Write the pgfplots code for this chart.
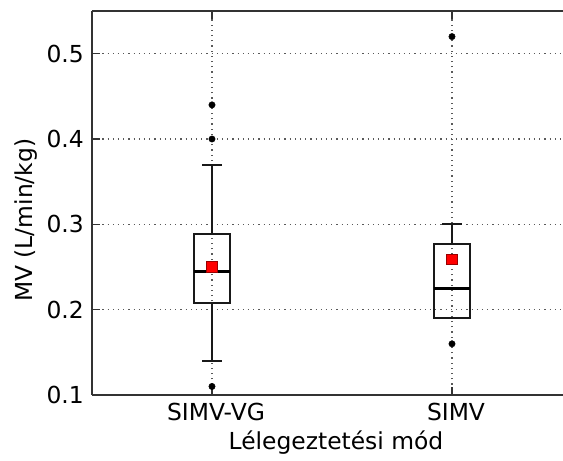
\documentclass[border=0pt]{standalone}
\usepackage{fontspec}
\setmainfont{DejaVu Sans}
\usepackage{pgfplots}
\usepgfplotslibrary{statistics}
\pgfplotsset{compat=1.18}

\begin{document}
\fontsize{11.7}{14}\selectfont
\begin{tikzpicture}
\begin{axis}[
  scale only axis,
  width=235.5pt, height=192pt,
  xmin=0.5, xmax=2.4625,
  ymin=0.1, ymax=0.55,
  axis y line*=left,
  axis line style={black!80, line width=0.9pt},
  xtick={1,2},
  xticklabels={SIMV-VG,SIMV},
  xticklabel style={xshift=2pt},
  ytick={0.1,0.2,0.3,0.4,0.5},
  yticklabel style={/pgf/number format/.cd, fixed, fixed zerofill, precision=1},
  /pgf/number format/assume math mode=true,
  tick align=inside,
  major tick length=4pt,
  tick style={black!80, line width=0.6pt},
  grid=major,
  grid style={black!65, line width=0.6pt, dash pattern=on 0.6pt off 2pt},
  xlabel={Lélegeztetési mód},
  ylabel={MV (L/min/kg)},
  every axis y label/.style={at={(axis description cs:0,0.455)}, xshift=-33pt, rotate=90, anchor=center},
  every axis x label/.style={at={(axis description cs:0.518,0)}, anchor=center, yshift=-24pt},
  ticklabel style={font=\fontsize{11.7}{14}\selectfont},
  label style={font=\fontsize{11.7}{14}\selectfont},
  boxplot/draw direction=y,
  boxplot/every box/.style={draw=black!90, line width=1pt},
  boxplot/every whisker/.style={draw=black!90, line width=1pt},
  boxplot/every median/.style={draw=black, line width=1.6pt},
]
% SIMV-VG
\addplot[
  boxplot prepared={
    median=0.245, upper quartile=0.289, lower quartile=0.208,
    upper whisker=0.37, lower whisker=0.14,
    draw position=1, box extend=0.154, whisker extend=0.08},
  black, line width=1pt,
  mark=*, mark size=1.6pt, mark options={fill=black, draw=black, line width=0.2pt}
] table[row sep=\\, y index=0] {data\\ 0.44\\ 0.40\\ 0.11\\};
% SIMV
\addplot[
  boxplot prepared={
    median=0.225, upper quartile=0.277, lower quartile=0.19,
    upper whisker=0.30, lower whisker=0.19,
    draw position=2, box extend=0.154, whisker extend=0.08},
  black, line width=1pt,
  mark=*, mark size=1.6pt, mark options={fill=black, draw=black, line width=0.2pt}
] table[row sep=\\, y index=0] {data\\ 0.52\\ 0.16\\};
% means
\addplot[only marks, mark=square*, mark size=2.7pt,
  mark options={fill=red, draw=red!60!black, line width=0.3pt}]
  coordinates {(1,0.25) (2,0.259)};
\end{axis}
\pgfresetboundingbox
\path (-46pt,-33pt) rectangle (235.5pt,197.5pt);
\end{tikzpicture}
\end{document}
